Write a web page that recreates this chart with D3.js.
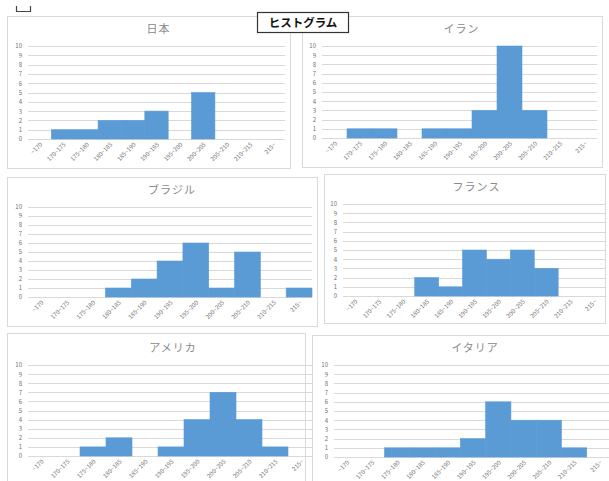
<!DOCTYPE html>
<html>
<head>
<meta charset="utf-8">
<script src="https://cdn.jsdelivr.net/npm/d3@7"></script>
<style>
  body { margin: 0; background: #fff; }
  svg { display: block; }
</style>
</head>
<body>
<svg id="chart" width="609" height="481"></svg>
<script>
// height classes (cm) and tick labels
const categories = ["~170", "170~175", "175~180", "180~185", "185~190", "190~195",
                    "195~200", "200~205", "205~210", "210~215", "215~"];
const yTicks = [0, 1, 2, 3, 4, 5, 6, 7, 8, 9, 10];

// counts per class
const japan   = [0, 1, 1, 2, 2, 3, 0, 5, 0, 0, 0];
const iran    = [0, 1, 1, 0, 1, 1, 3, 10, 3, 0, 0];
const brazil  = [0, 0, 0, 1, 2, 4, 6, 1, 5, 0, 1];
const france  = [0, 0, 0, 2, 1, 5, 4, 5, 3, 0, 0];
const america = [0, 0, 1, 2, 0, 1, 4, 7, 4, 1, 0];
const italy   = [0, 0, 1, 1, 1, 2, 6, 4, 4, 1, 0];

const countryNames = ["日本", "イラン", "ブラジル", "フランス", "アメリカ", "イタリア"];
const countryValues = [japan, iran, brazil, france, america, italy];
const mainTitle = "ヒストグラム";

// layout of each small chart (panel box + plot area)
const layout = [
  { box: [7, 16, 283, 152],  left: 28,  right: 285, top: 46,  bottom: 139 },
  { box: [302, 16, 300, 151], left: 322, right: 597, top: 46,  bottom: 138 },
  { box: [7, 177, 310, 149], left: 28,  right: 312, top: 207, bottom: 297 },
  { box: [324, 174, 281, 149], left: 343, right: 606, top: 204, bottom: 296 },
  { box: [7, 333, 298, 160], left: 28,  right: 314, top: 365, bottom: 456 },
  { box: [312, 335, 310, 160], left: 334, right: 612, top: 365, bottom: 457 }
];

const svg = d3.select("#chart");
const font = "'Noto Sans CJK JP', 'Noto Sans', sans-serif";

countryNames.forEach((name, i) => {
  const L = layout[i];
  const values = countryValues[i];
  const g = svg.append("g");

  // panel frame
  g.append("rect")
    .attr("x", L.box[0] + 0.5).attr("y", L.box[1] + 0.5)
    .attr("width", L.box[2]).attr("height", L.box[3])
    .attr("fill", "#fff")
    .attr("stroke", "#d9d9d9");

  const x = d3.scaleBand().domain(categories).range([L.left, L.right]).padding(0);
  const y = d3.scaleLinear().domain([0, 10]).range([L.bottom, L.top]);

  // gridlines + y labels
  const yAxis = g.append("g")
    .attr("transform", `translate(${L.left},0)`)
    .call(d3.axisLeft(y).tickValues(yTicks).tickSize(-(L.right - L.left)).tickPadding(6));
  yAxis.select(".domain").remove();
  yAxis.selectAll("line").attr("stroke", "#d9d9d9").attr("shape-rendering", "crispEdges");
  yAxis.selectAll("text")
    .attr("fill", "#707070")
    .style("font-family", font)
    .style("font-size", "6px");

  // bars (thin same-colour stroke closes the seams between adjacent bins)
  g.selectAll(".bar")
    .data(categories)
    .enter().append("rect")
    .attr("class", "bar")
    .attr("x", d => x(d))
    .attr("width", x.bandwidth())
    .attr("y", (d, j) => y(values[j]))
    .attr("height", (d, j) => y(0) - y(values[j]))
    .attr("fill", "#5b9bd5")
    .attr("stroke", (d, j) => values[j] > 0 ? "#5b9bd5" : "none")
    .attr("stroke-width", 0.6);

  // x labels, rotated
  const xAxis = g.append("g")
    .attr("transform", `translate(0,${L.bottom})`)
    .call(d3.axisBottom(x).tickSize(0).tickPadding(0));
  xAxis.select(".domain").remove();
  xAxis.selectAll("text")
    .attr("fill", "#707070")
    .style("font-family", font)
    .style("font-size", "6px")
    .attr("text-anchor", "end")
    .attr("dy", null)
    .attr("y", 0)
    .attr("transform", "translate(3,6) rotate(-45)");

  // panel title
  g.append("text")
    .attr("x", (L.left + L.right) / 2 + 2)
    .attr("y", L.top - 13)
    .attr("text-anchor", "middle")
    .attr("fill", "#8a8a8a")
    .style("font-family", font)
    .style("font-size", "11px")
    .style("letter-spacing", "1px")
    .text(name);
});

// main title box
svg.append("rect")
  .attr("x", 257.5).attr("y", 12.5)
  .attr("width", 91).attr("height", 20)
  .attr("fill", "#fff")
  .attr("stroke", "#333")
  .attr("stroke-width", 1.2);
svg.append("text")
  .attr("x", 303).attr("y", 27)
  .attr("text-anchor", "middle")
  .attr("fill", "#111")
  .style("font-family", font)
  .style("font-size", "11.5px")
  .style("font-weight", "bold")
  .text(mainTitle);

// small bracket mark at the top-left
svg.append("path")
  .attr("d", "M16.5,6 V11.5 H30.5 V6")
  .attr("fill", "none")
  .attr("stroke", "#444")
  .attr("stroke-width", 1.2);
</script>
</body>
</html>
